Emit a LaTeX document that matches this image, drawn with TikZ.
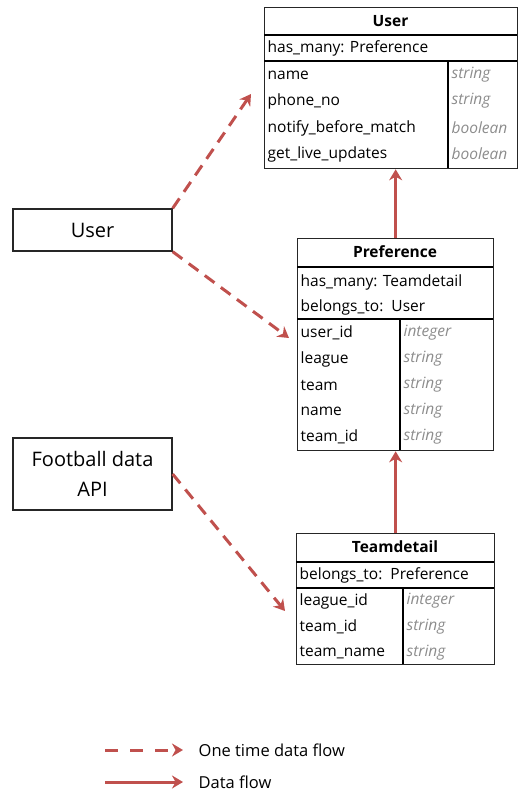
\documentclass[tikz,border=0pt]{standalone}
\usepackage{fontspec}
\setmainfont{Open Sans}
\usetikzlibrary{arrows.meta}
\definecolor{flowred}{RGB}{192,80,77}

\begin{document}
\begin{tikzpicture}[x=1pt, y=-1pt, line width=1.3pt, font=\fontsize{15.5}{18}\selectfont,
  tbl/.style={draw=black!85, anchor=north west, inner sep=0pt},
  fld/.style={anchor=west, inner sep=0pt},
  typ/.style={anchor=west, inner sep=0pt, font=\fontsize{15.5}{18}\selectfont\itshape, text=black!45},
  ttl/.style={font=\fontsize{15.5}{18}\selectfont\bfseries},
  ext/.style={draw=black!85, align=center, font=\fontsize{20}{30}\selectfont},
  once/.style={draw=flowred, line width=3pt, dash pattern=on 12pt off 8pt, -{Stealth[length=11pt,width=13pt]}},
  flow/.style={draw=flowred, line width=3pt, -{Stealth[length=11pt,width=13pt]}}]
\useasboundingbox (0,0) rectangle (520,799);
% User model
\node[tbl, minimum width=253pt, minimum height=161pt] (usr) at (264,7) {};
\draw (264,35) -- (517,35);
\draw (264,61) -- (517,61);
\draw (448,61) -- (448,168);
\node[ttl] (usr-ttl) at (390.5,21) {User};
\node[fld] (usr-rel) at (267,48) {has\_many: Preference};
\node[fld] (usr-f1) at (267,75) {name}; \node[typ] (usr-t1) at (451,75) {string};
\node[fld] (usr-f2) at (267,101) {phone\_no}; \node[typ] (usr-t2) at (451,101) {string};
\node[fld] (usr-f3) at (267,128) {notify\_before\_match}; \node[typ] (usr-t3) at (451,128) {boolean};
\node[fld] (usr-f4) at (267,154) {get\_live\_updates}; \node[typ] (usr-t4) at (451,154) {boolean};
% Preference model
\node[tbl, minimum width=196pt, minimum height=212pt] (pref) at (297,238) {};
\draw (297,267) -- (493,267);
\draw (297,319) -- (493,319);
\draw (400,319) -- (400,450);
\node[ttl] (pref-ttl) at (395,252) {Preference};
\node[fld] (pref-rel1) at (300,282) {has\_many: Teamdetail};
\node[fld] (pref-rel2) at (300,307) {belongs\_to:\ \ User};
\node[fld] (pref-f1) at (300,333) {user\_id}; \node[typ] (pref-t1) at (403,333) {integer};
\node[fld] (pref-f2) at (300,359) {league}; \node[typ] (pref-t2) at (403,359) {string};
\node[fld] (pref-f3) at (300,385) {team}; \node[typ] (pref-t3) at (403,385) {string};
\node[fld] (pref-f4) at (300,411) {name}; \node[typ] (pref-t4) at (403,411) {string};
\node[fld] (pref-f5) at (300,437) {team\_id}; \node[typ] (pref-t5) at (403,437) {string};
% Teamdetail model
\node[tbl, minimum width=198pt, minimum height=131pt] (td) at (296,533) {};
\draw (296,562) -- (494,562);
\draw (296,588) -- (494,588);
\draw (403,588) -- (403,664);
\node[ttl] (td-ttl) at (395,547) {Teamdetail};
\node[fld] (td-rel) at (299,575) {belongs\_to:\ \ Preference};
\node[fld] (td-f1) at (299,601) {league\_id}; \node[typ] (td-t1) at (406,601) {integer};
\node[fld] (td-f2) at (299,627) {team\_id}; \node[typ] (td-t2) at (406,627) {string};
\node[fld] (td-f3) at (299,653) {team\_name}; \node[typ] (td-t3) at (406,653) {string};
% outside sources
\node[ext, minimum width=159pt, minimum height=42pt] (src) at (92.5,230) {User};
\node[ext, minimum width=159pt, minimum height=72pt] (api) at (92.5,474) {Football data\\API};
% flows
\coordinate (usr-in) at (251,94);
\coordinate (pref-in) at (289,338);
\coordinate (td-in) at (285,611);
\draw[once] (src.north east) -- (usr-in);
\draw[once] (src.south east) -- (pref-in);
\draw[once] (api.east) -- (td-in);
\draw[flow] (pref.north) -- (pref.north |- usr.south);
\draw[flow] (td.north) -- (td.north |- pref.south);
% legend
\coordinate (lg-once-a) at (105,750); \coordinate (lg-once-b) at (183,750);
\coordinate (lg-flow-a) at (105,782); \coordinate (lg-flow-b) at (183,782);
\draw[once, dash pattern=on 13pt off 12pt] (lg-once-a) -- (lg-once-b);
\draw[flow] (lg-flow-a) -- (lg-flow-b);
\node[fld, font=\fontsize{16.5}{20}\selectfont] (lg-once) at (198,750) {One time data flow};
\node[fld, font=\fontsize{16.5}{20}\selectfont] (lg-flow) at (198,782) {Data flow};
\end{tikzpicture}
\end{document}
